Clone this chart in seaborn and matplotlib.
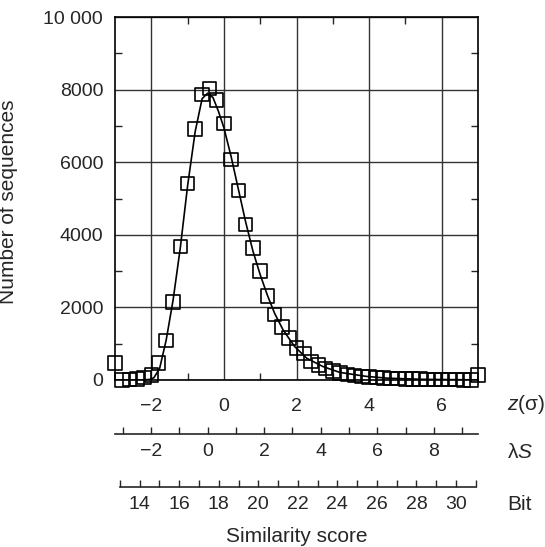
import numpy as np
import seaborn as sns
import matplotlib.pyplot as plt
from matplotlib.ticker import FixedLocator

# histogram of similarity scores, in units of z (sigma)
z_bins = [-3.0, -2.8, -2.6, -2.4, -2.2, -2.0, -1.8, -1.6, -1.4, -1.2,
          -1.0, -0.8, -0.6, -0.4, -0.2, 0.0, 0.2, 0.4, 0.6, 0.8,
          1.0, 1.2, 1.4, 1.6, 1.8, 2.0, 2.2, 2.4, 2.6, 2.8,
          3.0, 3.2, 3.4, 3.6, 3.8, 4.0, 4.2, 4.4, 4.6, 4.8,
          5.0, 5.2, 5.4, 5.6, 5.8, 6.0, 6.2, 6.4, 6.6, 6.8, 7.0]
counts = [470, 5, 10, 25, 70, 140, 470, 1090, 2150, 3680,
          5410, 6920, 7870, 8030, 7720, 7060, 6080, 5220, 4280, 3630,
          3010, 2320, 1810, 1460, 1150, 880, 730, 510, 410, 320,
          255, 200, 155, 120, 100, 85, 70, 55, 45, 40,
          32, 28, 22, 18, 15, 12, 10, 8, 6, 5, 140]

# fitted curve
curve_z = [-3.0, -2.3, -2.05, -1.93, -1.77, -1.59, -1.4, -1.2, -1.0, -0.79,
           -0.6, -0.45, -0.3, -0.15, 0.0, 0.2, 0.4, 0.6, 0.8, 1.0,
           1.2, 1.4, 1.63, 1.95, 2.28, 2.73, 3.19, 3.92, 4.5, 5.5, 7.0]
curve_n = [0, 0, 15, 60, 320, 1100, 2200, 3650, 5350, 6850,
           7750, 7900, 7780, 7400, 6950, 6150, 5250, 4350, 3550, 2900,
           2330, 1830, 1380, 920, 600, 370, 210, 100, 50, 18, 3]

z_ticks = [-2, 0, 2, 4, 6]
z_minor = [-1, 1, 3, 5]
y_ticks = [0, 2000, 4000, 6000, 8000, 10000]
y_ticklabels = ['0', '2000', '4000', '6000', '8000', '10 000']
y_minor = [1000, 3000, 5000, 7000, 9000]
ls_ticks = [-2, 0, 2, 4, 6, 8]
ls_minor = [-3, -1, 1, 3, 5, 7, 9]
bit_ticks = [14, 16, 18, 20, 22, 24, 26, 28, 30]
bit_minor = [13, 15, 17, 19, 21, 23, 25, 27, 29, 31]

sns.set_style('white')
plt.rcParams['font.family'] = ['Liberation Sans', 'DejaVu Sans']
plt.rcParams['mathtext.fontset'] = 'custom'
plt.rcParams['mathtext.rm'] = 'Liberation Sans'
plt.rcParams['mathtext.it'] = 'Liberation Sans:italic'

fs_tick = 14
fs_lab = 15
fig = plt.figure(figsize=(5.45, 5.47), dpi=100)
ax = fig.add_axes([115 / 545, 1 - 380 / 547, 363 / 545, 363 / 547])

sns.lineplot(x=curve_z, y=curve_n, ax=ax, color='black', lw=1.2, zorder=2)
sns.scatterplot(x=z_bins, y=counts, ax=ax, marker='s', s=95, facecolors='none',
                edgecolor='black', linewidth=1.2, clip_on=False, zorder=3)

ax.set_xlim(-3, 7)
ax.set_ylim(0, 10000)
ax.set_xticks(z_ticks)
ax.set_xticklabels([f'\u2212{abs(t)}' if t < 0 else str(t) for t in z_ticks])
ax.xaxis.set_minor_locator(FixedLocator(z_minor))
ax.set_yticks(y_ticks)
ax.set_yticklabels(y_ticklabels)
ax.yaxis.set_minor_locator(FixedLocator(y_minor))
ax.grid(True, which='major', color='#333333', lw=1.0)
ax.tick_params(which='major', length=0, labelsize=fs_tick)
ax.tick_params(axis='x', which='major', pad=13)
ax.tick_params(axis='y', which='major', pad=8.5)
ax.tick_params(which='minor', direction='in', length=5, width=1.0,
               top=True, right=True, bottom=True, left=True)
for sp in ax.spines.values():
    sp.set_linewidth(1.2)
    sp.set_color('black')

ax.set_xlabel('')
ax.set_ylabel('Number of sequences', fontsize=fs_lab)
ax.yaxis.set_label_coords(-0.267, 0.49)

# lambda*S axis
sec1 = ax.secondary_xaxis(-0.149, functions=(lambda z: 0.5772 + 1.2825 * z,
                                             lambda s: (s - 0.5772) / 1.2825))
sec1.set_xticks(ls_ticks)
sec1.set_xticklabels([f'\u2212{abs(t)}' if t < 0 else str(t) for t in ls_ticks])
sec1.xaxis.set_minor_locator(FixedLocator(ls_minor))
sec1.tick_params(which='both', direction='in', length=5, width=1.0, labelsize=fs_tick, pad=6.5)
sec1.spines['bottom'].set_linewidth(1.2)

# bit score axis
sec2 = ax.secondary_xaxis(-0.294, functions=(lambda z: 18.26 + 1.836 * z,
                                             lambda b: (b - 18.26) / 1.836))
sec2.set_xticks(bit_ticks)
sec2.xaxis.set_minor_locator(FixedLocator(bit_minor))
sec2.tick_params(which='both', direction='in', length=5, width=1.0, labelsize=fs_tick, pad=6.5)
sec2.spines['bottom'].set_linewidth(1.2)
sec2.spines['bottom'].set_bounds(13, 31)

fig.text(507 / 545, 1 - 405 / 547, '$z$(σ)', fontsize=fs_lab, ha='left', va='center')
fig.text(507 / 545, 1 - 452 / 547, 'λ$S$', fontsize=fs_lab, ha='left', va='center')
fig.text(507 / 545, 1 - 505 / 547, 'Bit', fontsize=fs_lab, ha='left', va='center')
fig.text(297 / 545, 1 - 536 / 547, 'Similarity score', fontsize=fs_lab, ha='center', va='center')

fig.savefig('out.png', dpi=100)
